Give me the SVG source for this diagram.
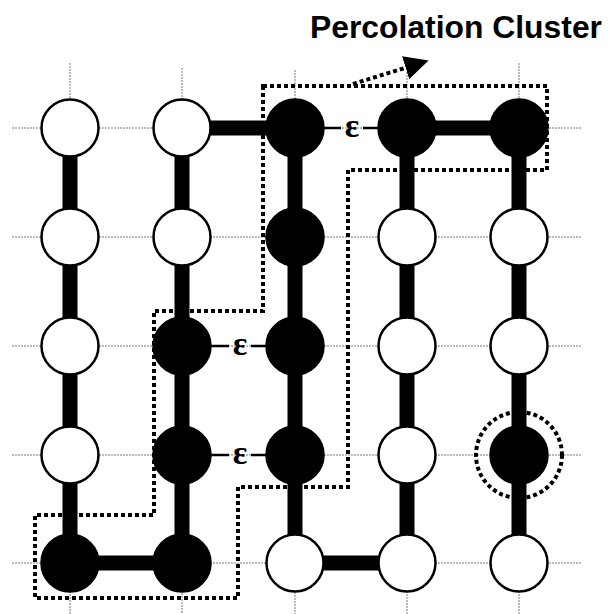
<svg xmlns="http://www.w3.org/2000/svg" width="609" height="614" viewBox="0 0 609 614">
  <style>
    .grid { stroke: #7a7a7a; stroke-width: 1; stroke-dasharray: 2 1; fill: none; }
    .bond { stroke: #000; stroke-width: 15; stroke-linecap: butt; }
    .weak { stroke: #000; stroke-width: 2.5; }
    .eps { font-family: "Liberation Serif", "DejaVu Serif", serif; font-weight: bold; font-size: 34px; text-anchor: middle; fill: #000; }
    .site { stroke: #000; stroke-width: 2.5; }
    .open { fill: #fff; }
    .occupied { fill: #000; }
    .outline { fill: none; stroke: #000; stroke-width: 4; stroke-dasharray: 4 3; }
    .title { font-family: "Liberation Sans", Arial, sans-serif; font-weight: bold; font-size: 31px; fill: #000; }
  </style>
  <defs>
    <marker id="head" viewBox="0 0 10 10" refX="8" refY="5" markerWidth="6" markerHeight="6" markerUnits="strokeWidth" orient="auto">
      <path d="M0,0 L10,5 L0,10 z" fill="#000"/>
    </marker>
  </defs>
  <rect width="609" height="614" fill="#fff"/>

  <!-- lattice lines -->
  <g id="lattice">
    <line class="grid" x1="12" y1="128" x2="582" y2="128"/>
    <line class="grid" x1="12" y1="237" x2="582" y2="237"/>
    <line class="grid" x1="12" y1="346" x2="582" y2="346"/>
    <line class="grid" x1="12" y1="455" x2="582" y2="455"/>
    <line class="grid" x1="12" y1="563" x2="582" y2="563"/>
    <line class="grid" x1="70" y1="63" x2="70" y2="614"/>
    <line class="grid" x1="182" y1="68" x2="182" y2="614"/>
    <line class="grid" x1="295" y1="70" x2="295" y2="614"/>
    <line class="grid" x1="407" y1="72" x2="407" y2="614"/>
    <line class="grid" x1="519" y1="63" x2="519" y2="614"/>
  </g>

  <!-- bonds between sites -->
  <g id="connectors">
    <line class="bond" x1="70" y1="128" x2="70" y2="563"/>
    <line class="bond" x1="182" y1="128" x2="182" y2="563"/>
    <line class="bond" x1="295" y1="128" x2="295" y2="563"/>
    <line class="bond" x1="407" y1="128" x2="407" y2="563"/>
    <line class="bond" x1="519" y1="128" x2="519" y2="563"/>
    <line class="bond" x1="182" y1="128" x2="295" y2="128"/>
    <line class="bond" x1="407" y1="128" x2="519" y2="128"/>
    <line class="bond" x1="70" y1="563" x2="182" y2="563"/>
    <line class="bond" x1="295" y1="563" x2="407" y2="563"/>

    <!-- weak ε links -->
    <line class="weak" x1="320" y1="128" x2="341" y2="128"/>
    <line class="weak" x1="363" y1="128" x2="382" y2="128"/>
    <line class="weak" x1="208" y1="346" x2="229" y2="346"/>
    <line class="weak" x1="251" y1="346" x2="270" y2="346"/>
    <line class="weak" x1="208" y1="455" x2="229" y2="455"/>
    <line class="weak" x1="251" y1="455" x2="270" y2="455"/>
  </g>

  <!-- sites -->
  <g id="r1c1"><circle class="site open" cx="70" cy="128" r="28.5"/></g>
  <g id="r1c2"><circle class="site open" cx="182" cy="128" r="28.5"/></g>
  <g id="r1c3"><circle class="site occupied" cx="295" cy="128" r="28.5"/></g>
  <g id="r1c4"><circle class="site occupied" cx="407" cy="128" r="28.5"/></g>
  <g id="r1c5"><circle class="site occupied" cx="519" cy="128" r="28.5"/></g>

  <g id="r2c1"><circle class="site open" cx="70" cy="237" r="28.5"/></g>
  <g id="r2c2"><circle class="site open" cx="182" cy="237" r="28.5"/></g>
  <g id="r2c3"><circle class="site occupied" cx="295" cy="237" r="28.5"/></g>
  <g id="r2c4"><circle class="site open" cx="407" cy="237" r="28.5"/></g>
  <g id="r2c5"><circle class="site open" cx="519" cy="237" r="28.5"/></g>

  <g id="r3c1"><circle class="site open" cx="70" cy="346" r="28.5"/></g>
  <g id="r3c2"><circle class="site occupied" cx="182" cy="346" r="28.5"/></g>
  <g id="r3c3"><circle class="site occupied" cx="295" cy="346" r="28.5"/></g>
  <g id="r3c4"><circle class="site open" cx="407" cy="346" r="28.5"/></g>
  <g id="r3c5"><circle class="site open" cx="519" cy="346" r="28.5"/></g>

  <g id="r4c1"><circle class="site open" cx="70" cy="455" r="28.5"/></g>
  <g id="r4c2"><circle class="site occupied" cx="182" cy="455" r="28.5"/></g>
  <g id="r4c3"><circle class="site occupied" cx="295" cy="455" r="28.5"/></g>
  <g id="r4c4"><circle class="site open" cx="407" cy="455" r="28.5"/></g>
  <g id="r4c5">
    <circle class="site occupied" cx="519" cy="455" r="28.5"/>
    <circle class="outline" cx="519" cy="455" r="43"/>
  </g>

  <g id="r5c1"><circle class="site occupied" cx="70" cy="563" r="28.5"/></g>
  <g id="r5c2"><circle class="site occupied" cx="182" cy="563" r="28.5"/></g>
  <g id="r5c3"><circle class="site open" cx="295" cy="563" r="28.5"/></g>
  <g id="r5c4"><circle class="site open" cx="407" cy="563" r="28.5"/></g>
  <g id="r5c5"><circle class="site open" cx="519" cy="563" r="28.5"/></g>

  <!-- ε labels on weak links -->
  <g id="eps-labels">
    <text class="eps" x="352" y="137">ε</text>
    <text class="eps" x="240" y="355">ε</text>
    <text class="eps" x="240" y="464">ε</text>
  </g>

  <!-- cluster boundary -->
  <g id="cluster">
    <path class="outline" d="M263,86 H547 V170 H348 V487 H238 V598 H35 V515 H154 V311 H263 Z"/>
  </g>

  <!-- title with pointer -->
  <g id="title">
    <text class="title" x="310" y="38" textLength="292" lengthAdjust="spacingAndGlyphs">Percolation Cluster</text>
    <line x1="353" y1="84" x2="424" y2="62" stroke="#000" stroke-width="4" stroke-dasharray="4 3" marker-end="url(#head)"/>
  </g>
</svg>
